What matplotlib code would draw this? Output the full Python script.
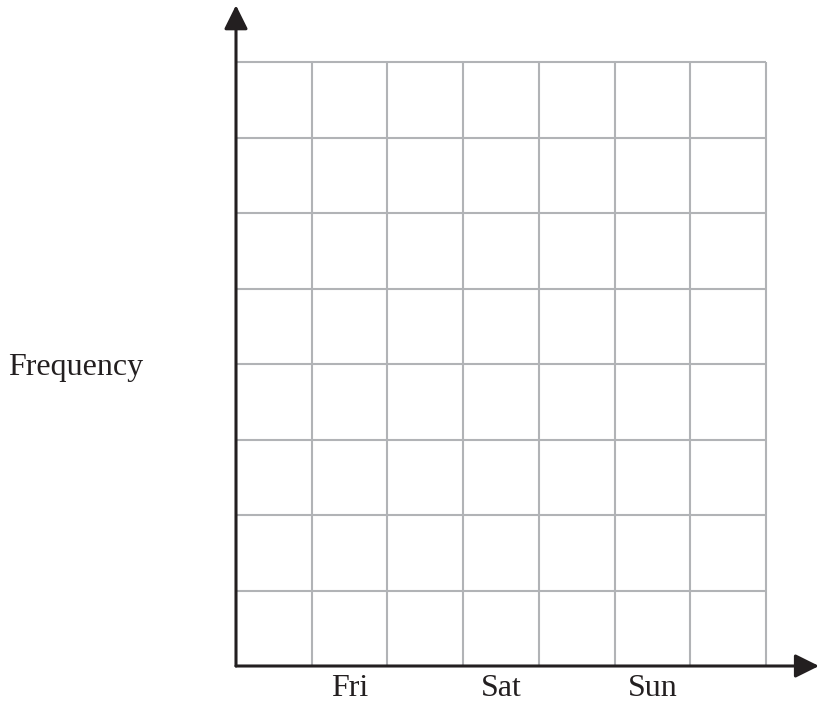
import matplotlib.pyplot as plt

days = ['Fri', 'Sat', 'Sun']
n_cols = 7   # grid columns along x
n_rows = 8   # grid rows along y

grid_col = '#b1b3b6'
axis_col = '#231f20'

fig = plt.figure(figsize=(8.19, 7.03), dpi=100)
ax = fig.add_axes([236/819, 37/703, 530/819, 604/703])
ax.set_xlim(0, n_cols)
ax.set_ylim(0, n_rows)

for s in ax.spines.values():
    s.set_visible(False)

# grid lines
ax.vlines(range(1, n_cols + 1), 0, n_rows, color=grid_col, lw=1.5, clip_on=False, zorder=1)
ax.hlines(range(1, n_rows + 1), 0, n_cols, color=grid_col, lw=1.5, clip_on=False, zorder=1)

# day labels between grid lines
ax.set_xticks([1.5 + 2*i for i in range(len(days))])
ax.set_xticklabels(days, family='Liberation Serif', fontsize=23, color=axis_col)
ax.set_yticks([])
ax.tick_params(length=0)
ax.tick_params(axis='x', pad=5.5)

ax.set_ylabel('Frequency', rotation=0, family='Liberation Serif', fontsize=23,
              color=axis_col, ha='center', va='baseline')
ax.yaxis.set_label_coords(-0.302, 0.482)

# axis arrows
arr = dict(arrowstyle='-|>,head_length=1.45,head_width=0.72', color=axis_col,
           lw=2.2, mutation_scale=10, shrinkA=0, shrinkB=0)
ax.annotate('', xy=(0, 1.094), xytext=(0, 0), xycoords='axes fraction',
            arrowprops=arr, annotation_clip=False)
ax.annotate('', xy=(1.1, 0), xytext=(0, 0), xycoords='axes fraction',
            arrowprops=arr, annotation_clip=False)

plt.savefig('out.png', dpi=100)
